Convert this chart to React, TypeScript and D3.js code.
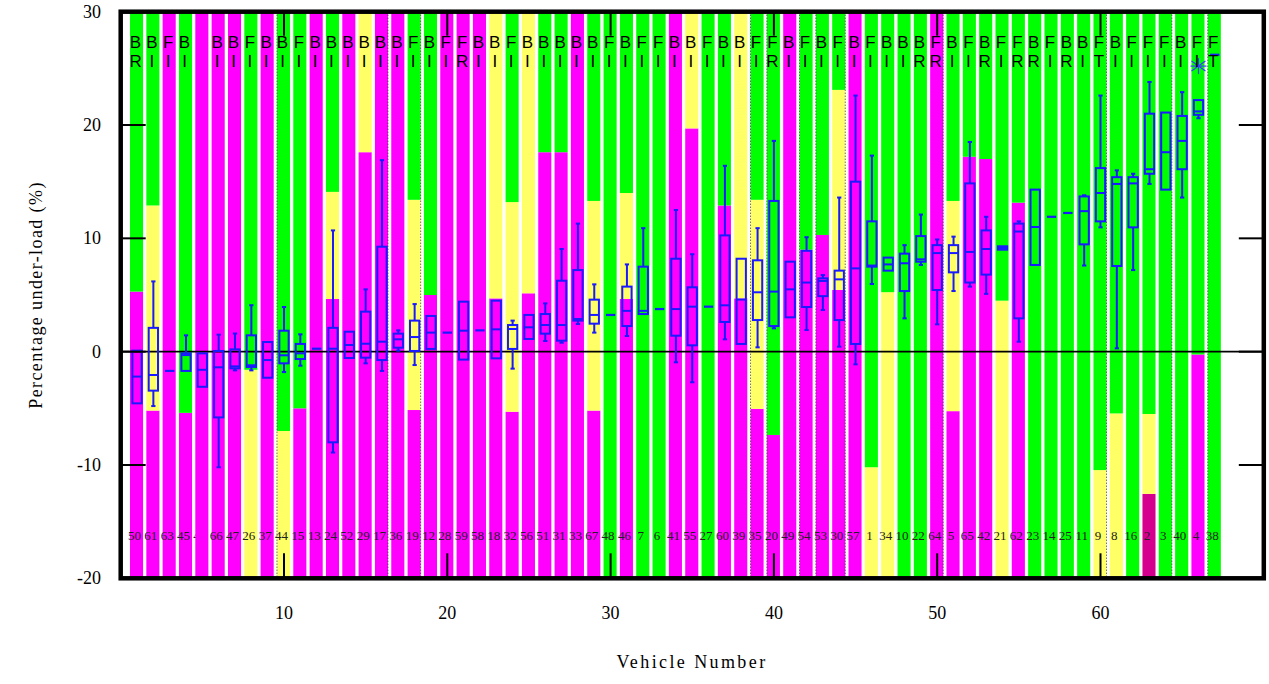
import React from 'react';
import * as d3 from 'd3';

const vehicleIds = [50,61,63,45,43,66,47,26,37,44,15,13,24,52,29,17,36,19,12,28,59,58,18,32,56,51,31,33,67,48,46,7,6,41,55,27,60,39,35,20,49,54,53,30,57,1,34,10,22,64,5,65,42,21,62,23,14,25,11,9,8,16,2,3,40,4,38];
const typeLetters = ['B','B','F','B','','B','B','F','B','B','F','B','B','B','B','B','B','F','B','F','F','B','B','F','B','B','B','B','B','F','B','F','F','B','B','F','B','B','F','F','B','F','B','F','B','F','B','B','B','F','B','F','B','F','F','B','F','B','B','F','B','F','F','F','B','F','F'];
const roadLetters = ['R','I','I','I','','I','I','I','I','I','I','I','I','I','I','I','I','I','I','I','R','I','I','I','I','I','I','I','I','I','I','I','I','I','I','I','I','I','I','R','I','I','I','I','I','I','I','I','R','R','I','I','R','I','R','R','I','R','I','T','I','I','I','I','I','I','T'];
// colour bands bottom-to-top: M magenta, Y yellow, G green, D dark magenta
const bandCodes = ['MG','MYG','M','MG','M','M','M','YG','M','YG','MG','M','MYG','M','MY','M','M','MYG','MG','M','M','M','MY','MYG','MY','MG','MG','M','MYG','G','MYG','G','G','M','MY','G','MG','MY','MYG','MG','M','MG','MG','MYG','M','YG','YG','G','G','M','MYG','MG','MG','YG','MG','G','G','G','G','YG','YG','G','DYG','G','G','MG','G'];
const bandBreaks: number[][] = [[5.3],[-5.2,12.9],[],[-5.4],[],[],[],[-1.6],[],[-7.0],[-5.0],[],[4.65,14.1],[],[17.6],[],[],[-5.15,13.4],[5.0],[],[],[],[4.7],[-5.3,13.2],[5.15],[17.6],[17.6],[],[-5.2,13.3],[],[4.65,14.0],[],[],[],[19.7],[],[12.9],[4.7],[-5.05,13.4],[-7.35],[],[9.0],[10.3],[5.45,23.1],[],[-10.2],[5.25],[],[],[],[-5.25,13.3],[17.2],[17.0],[4.5],[13.15],[],[],[],[],[-10.45],[-5.45],[],[-12.55,-5.5],[],[],[-0.25],[]];
const whiskerLow = [-4.56,-4.8,-1.7,-1.7,-3.1,-10.2,-1.65,-1.65,-2.3,-1.8,-1.24,0.26,-8.9,-0.56,-1.03,-1.7,0.09,-1.18,0.24,1.68,-0.7,1.88,-0.59,-1.5,1.12,0.94,0.79,2.44,1.68,3.24,1.38,3.32,3.76,-0.94,-2.7,3.97,1.09,0.68,0.38,2.06,3.03,1.91,3.68,0.44,-1.12,5.97,7.15,2.94,7.65,2.41,5.35,5.74,5.1,9.0,0.88,7.65,11.9,12.24,7.6,10.97,0.29,7.2,14.8,14.3,13.6,20.6,26.2];
const quart1 = [-4.56,-3.44,-1.7,-1.7,-3.1,-5.8,-1.47,-1.35,-2.3,-1.03,-0.65,0.26,-8.0,-0.56,-0.53,-0.74,0.35,0.06,0.24,1.68,-0.7,1.88,-0.59,0.24,1.12,1.59,0.97,2.74,2.47,3.24,2.26,3.32,3.76,1.41,0.56,3.97,2.62,0.68,2.79,2.26,3.03,3.94,4.9,2.79,0.68,7.5,7.15,5.35,7.94,5.44,7.0,6.1,6.8,9.0,2.94,7.65,11.9,12.24,9.47,11.5,7.56,10.97,15.7,14.3,16.1,20.9,26.2];
const medians = [-2.2,-2.06,-1.7,-0.3,-1.6,-1.38,-1.3,-1.2,-0.74,-0.32,-0.15,0.26,0.26,0.59,0.7,0.88,1.09,1.29,1.68,1.68,1.85,1.88,1.97,2.0,2.15,2.35,2.35,2.88,3.24,3.24,3.6,3.6,3.76,3.76,3.97,3.97,4.09,4.6,5.24,5.3,5.5,6.1,6.24,6.38,7.35,7.6,7.7,7.8,8.15,8.7,8.7,8.8,9.06,9.15,10.6,11.0,11.9,12.24,12.4,14.0,14.8,14.85,16.1,17.6,18.6,21.2,26.2];
const quart3 = [0.09,2.1,-1.7,-0.15,-0.15,0.06,0.2,1.44,0.85,1.85,0.68,0.26,2.1,1.76,3.53,9.26,1.59,2.74,3.15,1.68,4.41,1.88,4.5,2.35,3.24,3.32,6.26,7.2,4.59,3.24,5.74,7.5,3.76,8.2,5.68,3.97,10.26,8.2,8.06,13.3,7.94,8.9,6.47,7.15,15.0,11.5,8.3,8.65,10.2,9.4,9.4,14.85,10.7,9.3,11.3,14.3,11.9,12.24,13.7,16.2,15.4,15.4,21.0,21.1,20.8,22.2,26.2];
const whiskerHigh = [0.09,6.2,-1.7,1.44,-0.15,1.5,1.6,4.1,0.85,3.94,1.53,0.26,10.7,1.76,5.5,16.9,1.88,4.2,3.15,1.68,4.41,1.88,4.5,2.74,3.24,4.26,9.06,11.3,5.94,3.24,7.7,10.9,3.76,12.5,8.6,3.97,16.4,8.2,10.9,18.6,7.94,10.1,6.76,13.6,22.6,17.3,8.3,9.4,12.1,9.9,10.15,18.5,11.9,9.3,11.5,14.3,11.9,12.24,13.8,22.6,16.0,15.7,23.8,21.1,22.9,22.2,26.2];
const outlierCols = [66];
const outlierValues = [25.2];
const dottedEdgeCols = [10,16,18,39,40,42,43,44,50,60,64,67];
const dottedEdgeSides = [-1,1,1,-1,-1,-1,-1,1,1,1,1,-1];
const xTicks = [10,20,30,40,50,60];
const yTicks = [-20,-10,0,10,20,30];

const bandColors: Record<string,string> = { M: '#ff00ff', Y: '#ffff66', G: '#00ff00', D: '#d6008f' };
const BLUE = '#1a1aff';

export default function App() {
  const W = 1269, H = 684;
  const x = d3.scaleLinear().domain([0, 70]).range([120.7, 1263.8]);
  const y = d3.scaleLinear().domain([-20, 30]).range([578.3, 11.7]);
  const unit = x(1) - x(0);
  const barW = 0.8 * unit;
  const boxW = 0.57 * unit;
  const capW = 0.26 * unit;
  const cols = vehicleIds.map((id, i) => i + 1);
  const serif = '"Liberation Serif", "Times New Roman", serif';
  const sans = '"Liberation Sans", Arial, sans-serif';
  const [x0, x1] = x.range();
  const [yb, yt] = y.range();

  return (
    <svg width={W} height={H} style={{ position: 'absolute', left: 0, top: 0, background: '#fff' }}>
      {/* hidden label under bar 5 */}
      <text x={x(5) - 2.5} y={539.5} fontSize={13} fontFamily={serif} textAnchor="middle" fill="#222">{vehicleIds[4]}</text>
      {/* background bands */}
      {cols.map((c, i) => {
        const codes = bandCodes[i].split('');
        const edges = [-20, ...bandBreaks[i], 30];
        return (
          <g key={'b' + c}>
            {codes.map((code, k) => (
              <rect key={k} x={x(c) - barW / 2 - 0.5} width={barW} y={y(edges[k + 1])} height={y(edges[k]) - y(edges[k + 1])} fill={bandColors[code]} />
            ))}
          </g>
        );
      })}
      {/* dotted edges */}
      {dottedEdgeCols.map((c, i) => {
        const xx = x(c) + dottedEdgeSides[i] * (barW / 2) - 0.5;
        return <line key={'d' + i} x1={xx} x2={xx} y1={yt} y2={yb} stroke="#333" strokeWidth={1} strokeDasharray="1,2" />;
      })}
      {/* bottom labels */}
      {cols.map((c, i) => i === 4 ? null : (
        <text key={'l' + c} x={x(c) - 2.5} y={539.5} fontSize={13} fontFamily={serif} textAnchor="middle" fill="#222">{vehicleIds[i]}</text>
      ))}
      {/* zero line */}
      <line x1={x0} x2={x1} y1={y(0)} y2={y(0)} stroke="#000" strokeWidth={1.6} />
      {/* box plots */}
      {cols.map((c, i) => {
        const cx = x(c);
        const lo = whiskerLow[i], a = quart1[i], m = medians[i], b = quart3[i], hi = whiskerHigh[i];
        if (lo === hi) {
          return <line key={'s' + c} x1={cx - boxW / 2} x2={cx + boxW / 2} y1={y(m)} y2={y(m)} stroke={BLUE} strokeWidth={2.2} />;
        }
        return (
          <g key={'bx' + c} stroke={BLUE} strokeWidth={2} fill="none">
            {hi > b && <line x1={cx} x2={cx} y1={y(hi)} y2={y(b)} />}
            {hi > b && <line x1={cx - capW / 2} x2={cx + capW / 2} y1={y(hi)} y2={y(hi)} />}
            {lo < a && <line x1={cx} x2={cx} y1={y(a)} y2={y(lo)} />}
            {lo < a && <line x1={cx - capW / 2} x2={cx + capW / 2} y1={y(lo)} y2={y(lo)} />}
            <rect x={cx - boxW / 2} width={boxW} y={y(b)} height={Math.max(1, y(a) - y(b))} />
            <line x1={cx - boxW / 2} x2={cx + boxW / 2} y1={y(m)} y2={y(m)} />
          </g>
        );
      })}
      {/* outliers */}
      {outlierCols.map((c, i) => {
        const cx = x(c), cy = y(outlierValues[i]);
        return (
          <g key={'o' + i} stroke="#3a3aff" strokeWidth={1.2}>
            <line x1={cx - 8} x2={cx + 8} y1={cy} y2={cy} />
            <line x1={cx} x2={cx} y1={cy - 8} y2={cy + 8} />
            <line x1={cx - 7} x2={cx + 7} y1={cy - 5} y2={cy + 5} />
            <line x1={cx - 7} x2={cx + 7} y1={cy + 5} y2={cy - 5} />
          </g>
        );
      })}
      {/* top letters */}
      {cols.map((c, i) => (
        <g key={'t' + c} fontFamily={sans} fontSize={17} textAnchor="middle" fill="#000">
          <text x={x(c) - 1.5} y={48.3}>{typeLetters[i]}</text>
          <text x={x(c) - 1.5} y={67}>{roadLetters[i]}</text>
        </g>
      ))}
      {/* ticks */}
      {xTicks.map(t => (
        <g key={'xt' + t} stroke="#000" strokeWidth={2}>
          <line x1={x(t)} x2={x(t)} y1={yb} y2={yb - 25} />
          <line x1={x(t)} x2={x(t)} y1={yt} y2={yt + 24} />
        </g>
      ))}
      {yTicks.map(t => (
        <g key={'yt' + t} stroke="#000" strokeWidth={2}>
          <line x1={x0} x2={x0 + 25} y1={y(t)} y2={y(t)} />
          <line x1={x1} x2={x1 - 25} y1={y(t)} y2={y(t)} />
        </g>
      ))}
      {/* frame */}
      <rect x={x0} y={yt} width={x1 - x0} height={yb - yt} fill="none" stroke="#000" strokeWidth={4.5} />
      {/* tick labels */}
      {xTicks.map(t => (
        <text key={'xl' + t} x={x(t)} y={619} fontSize={18} fontFamily={serif} textAnchor="middle">{t}</text>
      ))}
      {yTicks.map(t => (
        <text key={'yl' + t} x={101} y={y(t) + 6} fontSize={18} fontFamily={serif} textAnchor="end">{t}</text>
      ))}
      <text x={692} y={668} fontSize={18} fontFamily={serif} textAnchor="middle" letterSpacing={2.4}>Vehicle  Number</text>
      <text transform={`translate(42,${(yt + yb) / 2}) rotate(-90)`} fontSize={18} fontFamily={serif} textAnchor="middle" letterSpacing={1.4}>Percentage under-load (%)</text>
    </svg>
  );
}
